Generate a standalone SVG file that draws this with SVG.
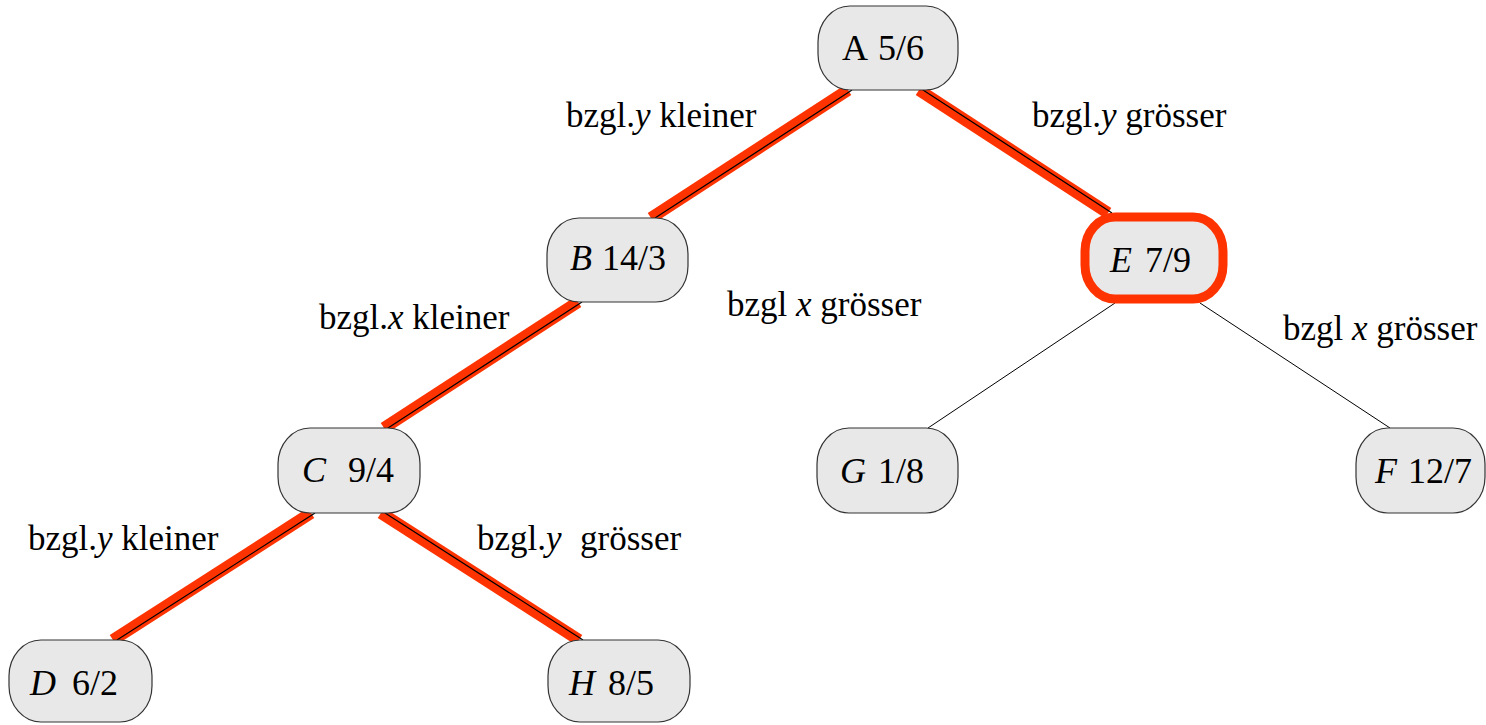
<svg xmlns="http://www.w3.org/2000/svg" width="1486" height="725" viewBox="0 0 1486 725">
<rect width="1486" height="725" fill="#fff"/>
<g id="connectors">
  <g stroke="#ff3300" stroke-width="12">
    <line x1="848" y1="90" x2="651" y2="218"/>
    <line x1="919" y1="90" x2="1108" y2="213"/>
    <line x1="578" y1="302" x2="384" y2="428"/>
    <line x1="311" y1="513" x2="113" y2="640"/>
    <line x1="381" y1="513" x2="579" y2="640"/>
  </g>
  <g stroke="#000" stroke-width="1.2">
    <line x1="852" y1="90" x2="655" y2="218"/>
    <line x1="923" y1="90" x2="1112" y2="213"/>
    <line x1="582" y1="302" x2="388" y2="428"/>
    <line x1="315" y1="513" x2="117" y2="640"/>
    <line x1="385" y1="513" x2="583" y2="640"/>
    <line x1="1115" y1="303" x2="928" y2="428" stroke-width="1"/>
    <line x1="1200" y1="303" x2="1390" y2="428" stroke-width="1"/>
  </g>
</g>
<g id="labels">
  <text x="566" y="127" font-size="35" font-family="'Liberation Serif'">bzgl.<tspan font-style="italic">y</tspan> kleiner</text>
  <text x="1032" y="127" font-size="35" font-family="'Liberation Serif'">bzgl.<tspan font-style="italic">y</tspan> grösser</text>
  <text x="319" y="329" font-size="35" font-family="'Liberation Serif'">bzgl.<tspan font-style="italic">x</tspan> kleiner</text>
  <text x="727" y="316" font-size="35" font-family="'Liberation Serif'">bzgl <tspan font-style="italic">x</tspan> grösser</text>
  <text x="1283" y="340" font-size="35" font-family="'Liberation Serif'">bzgl <tspan font-style="italic">x</tspan> grösser</text>
  <text x="28" y="550" font-size="35" font-family="'Liberation Serif'">bzgl.<tspan font-style="italic">y</tspan> kleiner</text>
  <text x="477" y="550" font-size="35" font-family="'Liberation Serif'">bzgl.<tspan font-style="italic">y</tspan><tspan x="580">grösser</tspan></text>
</g>
<g id="node-A">
  <rect x="818" y="6" width="140" height="84" rx="32" ry="36" fill="#e8e8e8" stroke="#333" stroke-width="1.2"/>
  <text x="842" y="60" font-size="36" font-family="'Liberation Serif'">A<tspan x="878">5/6</tspan></text>
</g>
<g id="node-B">
  <rect x="547" y="218" width="141" height="84" rx="32" ry="36" fill="#e8e8e8" stroke="#333" stroke-width="1.2"/>
  <text x="570" y="270" font-size="36" font-family="'Liberation Serif'"><tspan font-style="italic">B</tspan><tspan x="602">14/3</tspan></text>
</g>
<g id="node-E">
  <rect x="1085" y="217" width="138" height="82" rx="30" ry="34" fill="#e8e8e8" stroke="#ff3300" stroke-width="9"/>
  <text x="1110" y="272" font-size="36" font-family="'Liberation Serif'"><tspan font-style="italic">E</tspan><tspan x="1145">7/9</tspan></text>
</g>
<g id="node-C">
  <rect x="278" y="428" width="142" height="85" rx="32" ry="36" fill="#e8e8e8" stroke="#333" stroke-width="1.2"/>
  <text x="302" y="482" font-size="36" font-family="'Liberation Serif'"><tspan font-style="italic">C</tspan><tspan x="348">9/4</tspan></text>
</g>
<g id="node-G">
  <rect x="817" y="428" width="141" height="85" rx="32" ry="36" fill="#e8e8e8" stroke="#333" stroke-width="1.2"/>
  <text x="840" y="483" font-size="36" font-family="'Liberation Serif'"><tspan font-style="italic">G</tspan><tspan x="878">1/8</tspan></text>
</g>
<g id="node-F">
  <rect x="1356" y="428" width="129" height="85" rx="32" ry="36" fill="#e8e8e8" stroke="#333" stroke-width="1.2"/>
  <text x="1375" y="483" font-size="36" font-family="'Liberation Serif'"><tspan font-style="italic">F</tspan><tspan x="1408">12/7</tspan></text>
</g>
<g id="node-D">
  <rect x="9" y="640" width="143" height="82" rx="32" ry="36" fill="#e8e8e8" stroke="#333" stroke-width="1.2"/>
  <text x="30" y="695" font-size="36" font-family="'Liberation Serif'"><tspan font-style="italic">D</tspan><tspan x="72">6/2</tspan></text>
</g>
<g id="node-H">
  <rect x="548" y="640" width="142" height="82" rx="32" ry="36" fill="#e8e8e8" stroke="#333" stroke-width="1.2"/>
  <text x="569" y="695" font-size="36" font-family="'Liberation Serif'"><tspan font-style="italic">H</tspan><tspan x="608">8/5</tspan></text>
</g>
</svg>
